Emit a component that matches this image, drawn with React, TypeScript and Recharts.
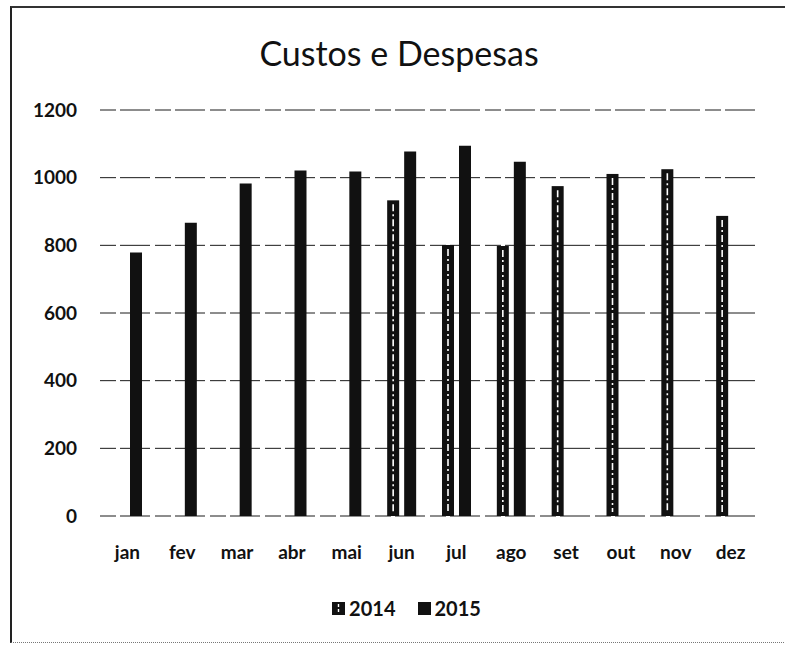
import { Bar, BarChart, CartesianGrid, Legend, XAxis, YAxis } from "recharts"

const meses = ["jan", "fev", "mar", "abr", "mai", "jun", "jul", "ago", "set", "out", "nov", "dez"]
const custos2014 = [null, null, null, null, null, 933, 801, 798, 975, 1011, 1025, 887]
const custos2015 = [779, 867, 983, 1021, 1018, 1077, 1094, 1047, null, null, null, null]
const ticksY = [0, 200, 400, 600, 800, 1000, 1200]

const data = meses.map((mes, i) => ({ mes, a2014: custos2014[i], a2015: custos2015[i] }))

const font = "Lato, 'Open Sans', sans-serif"
const tickStyle = { fill: "#111", fontSize: 19, fontWeight: 700, fontFamily: font }

// barra 2014: preta com um filete branco tracejado no meio (como no scan)
function BarraHachurada(props: any) {
	const { x, y, width, height } = props
	if (!height || height <= 0) return null
	const cx = x + width / 2
	return (
		<g>
			<rect x={x} y={y} width={width} height={height} fill="#111" />
			<line
				x1={cx}
				x2={cx}
				y1={y + 4}
				y2={y + height - 4}
				stroke="#fff"
				strokeWidth={1.6}
				strokeDasharray="7 3 2 3"
			/>
		</g>
	)
}

function LegendaCustom({ payload }: any) {
	return (
		<div style={{ display: "flex", justifyContent: "center", gap: 22, fontFamily: font, height: 24, alignItems: "center" }}>
			{(payload || []).map((p: any) => (
				<div key={p.value} style={{ display: "flex", alignItems: "center", gap: 4 }}>
					<svg width={13} height={13}>
						<rect x={0} y={0} width={13} height={13} fill="#111" />
						{p.value === "2014" && (
							<line x1={6.5} x2={6.5} y1={2} y2={11} stroke="#fff" strokeWidth={1.4} strokeDasharray="3 2" />
						)}
					</svg>
					<span style={{ fontSize: 20, fontWeight: 700, color: "#111" }}>{p.value}</span>
				</div>
			))}
		</div>
	)
}

export default function App() {
	return (
		<div style={{ position: "absolute", left: 0, top: 0, width: 785, height: 645, background: "#fff", overflow: "hidden" }}>
			{/* moldura do scan */}
			<div
				style={{
					position: "absolute",
					left: 10,
					top: 6,
					width: 790,
					height: 634,
					borderLeft: "2px solid #222",
					borderTop: "2px solid #333",
					borderBottom: "1px dotted #777",
				}}
			/>
			<div
				style={{
					position: "absolute",
					left: 0,
					width: 798,
					top: 33,
					textAlign: "center",
					fontFamily: font,
					fontSize: 34,
					color: "#111",
					lineHeight: "40px",
				}}
			>
				Custos e Despesas
			</div>
			<BarChart
				width={785}
				height={645}
				data={data}
				margin={{ top: 110, right: 27, left: 0, bottom: 75 }}
				barSize={12}
				barGap={5}
			>
				<CartesianGrid vertical={false} stroke="#1a1a1a" strokeDasharray="16 4 30 5" />
				<XAxis
					dataKey="mes"
					height={30}
					axisLine={false}
					tickLine={false}
					tick={tickStyle}
					tickMargin={24}
					interval={0}
				/>
				<YAxis
					width={100}
					domain={[0, 1200]}
					ticks={ticksY}
					axisLine={false}
					tickLine={false}
					tick={tickStyle}
					tickMargin={17}
				/>
				<Legend
					verticalAlign="bottom"
					content={<LegendaCustom />}
					wrapperStyle={{ left: 14, width: 785, bottom: 25 }}
				/>
				<Bar dataKey="a2014" name="2014" fill="#111" shape={<BarraHachurada />} isAnimationActive={false} />
				<Bar dataKey="a2015" name="2015" fill="#111" isAnimationActive={false} />
			</BarChart>
		</div>
	)
}
